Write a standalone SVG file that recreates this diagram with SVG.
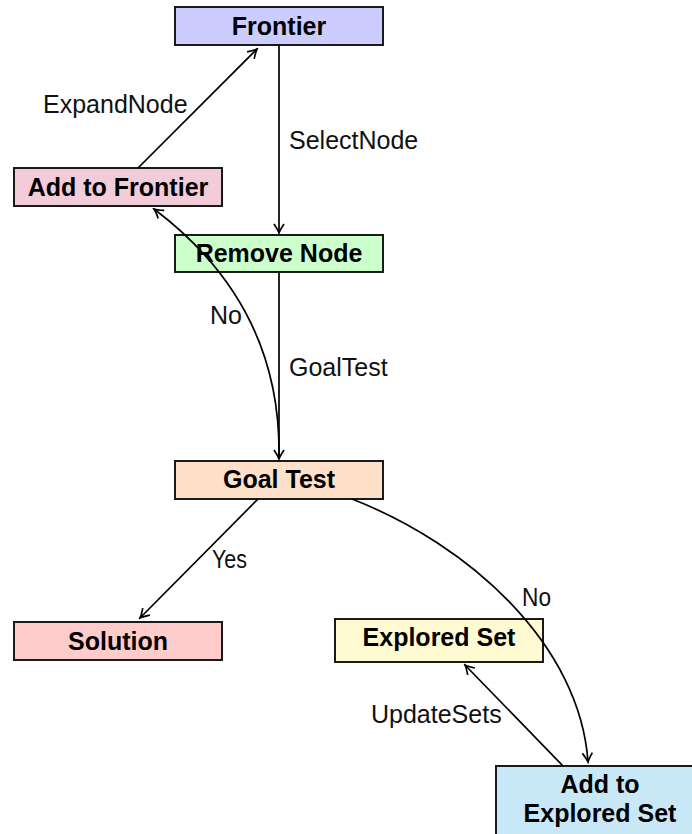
<svg xmlns="http://www.w3.org/2000/svg" width="692" height="834" viewBox="0 0 692 834">
<style>
.box{stroke:#1a1a1a;stroke-width:2}
.nt{font-family:"Liberation Sans",Arial,sans-serif;font-weight:bold;font-size:25px;fill:#000;text-anchor:middle}
.lb{font-family:"Liberation Sans",Arial,sans-serif;font-size:25px;fill:#111}
.cn{fill:none;stroke:#000;stroke-width:1.7}
</style>
<defs>
<marker id="arr" viewBox="-11 -7 13 14" refX="0" refY="0" markerWidth="13" markerHeight="14" markerUnits="userSpaceOnUse" orient="auto">
<path d="M-9,-5 Q-3,-1 0,0 Q-3,1 -9,5" fill="none" stroke="#000" stroke-width="1.7"/>
</marker>
</defs>
<rect width="692" height="834" fill="#fff"/>
<g id="frontier">
<rect class="box" x="175" y="7" width="208" height="38" fill="#ccccff"/>
<text class="nt" x="279" y="35">Frontier</text>
</g>
<g id="add-to-frontier">
<rect class="box" x="14" y="168" width="208" height="38" fill="#f2ccd9"/>
<text class="nt" x="118" y="196">Add to Frontier</text>
</g>
<g id="remove-node">
<rect class="box" x="175" y="235" width="208" height="37" fill="#ccffcc"/>
<text class="nt" x="279" y="262">Remove Node</text>
</g>
<g id="goal-test">
<rect class="box" x="175" y="461" width="208" height="38" fill="#ffe0c8"/>
<text class="nt" x="279" y="488">Goal Test</text>
</g>
<g id="solution">
<rect class="box" x="14" y="622" width="208" height="38" fill="#ffcccc"/>
<text class="nt" x="118" y="650">Solution</text>
</g>
<g id="explored-set">
<rect class="box" x="335" y="619" width="208" height="43" fill="#fffad2"/>
<text class="nt" x="439" y="646">Explored Set</text>
</g>
<g id="add-to-explored-set">
<rect class="box" x="496" y="766" width="208" height="80" fill="#c8e8f8"/>
<text class="nt" x="600" y="793">Add to</text>
<text class="nt" x="600" y="822">Explored Set</text>
</g>
<g id="connectors">
<line class="cn" x1="138" y1="168" x2="257" y2="49" marker-end="url(#arr)"/>
<line class="cn" x1="279" y1="45" x2="279" y2="233" marker-end="url(#arr)"/>
<line class="cn" x1="279" y1="272" x2="279" y2="459" marker-end="url(#arr)"/>
<path class="cn" d="M279,457 C281,330 215,255 154,209" marker-end="url(#arr)"/>
<line class="cn" x1="258" y1="499" x2="140" y2="618" marker-end="url(#arr)"/>
<path class="cn" d="M352,499 C470,545 580,645 588,762" marker-end="url(#arr)"/>
<line class="cn" x1="563" y1="766" x2="465" y2="665" marker-end="url(#arr)"/>
</g>
<g id="labels">
<text class="lb" x="43" y="113">ExpandNode</text>
<text class="lb" x="289" y="149">SelectNode</text>
<text class="lb" x="210" y="324">No</text>
<text class="lb" x="289" y="376">GoalTest</text>
<text class="lb" x="212" y="568" textLength="35" lengthAdjust="spacingAndGlyphs">Yes</text>
<text class="lb" x="522" y="606" textLength="29" lengthAdjust="spacingAndGlyphs">No</text>
<text class="lb" x="371" y="723">UpdateSets</text>
</g>
</svg>
